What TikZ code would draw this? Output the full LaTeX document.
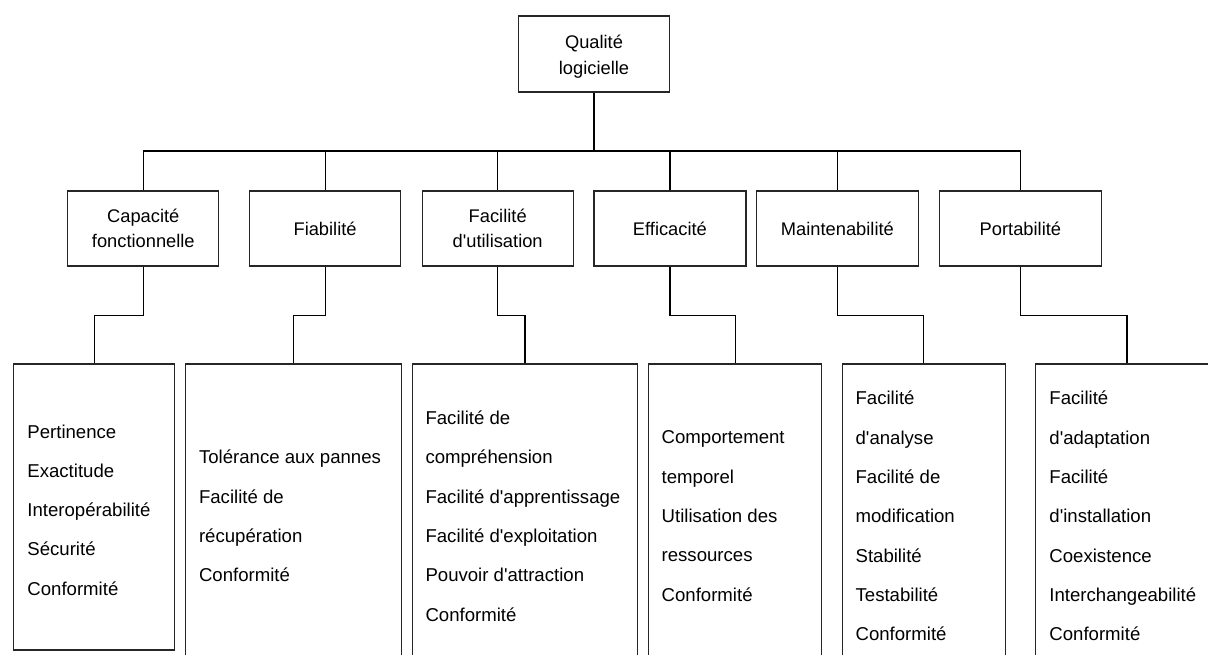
\documentclass[tikz,border=0pt]{standalone}
\usepackage{fontspec}
\setmainfont{Liberation Sans}[Ligatures=TeXOff]
\begin{document}
\begin{tikzpicture}[x=1pt,y=-1pt,
  box/.style={draw=black!85,line width=1.2pt,fill=white,inner sep=0pt,align=center,
              font=\fontsize{18.3}{25}\selectfont},
  topbox/.style={box,minimum width=151pt,minimum height=76pt,
                 font=\fontsize{18.3}{26}\selectfont},
  midbox/.style={box,minimum height=75pt},
  leaf/.style={draw=black!85,line width=1.2pt,inner sep=0pt,minimum height=304pt},
  leaftext/.style={anchor=west,align=left,inner sep=0pt,
                   font=\fontsize{18.6}{39.3}\selectfont},
  link/.style={draw=black,line width=1.2pt},
  trunk/.style={draw=black,line width=2.2pt}]
\useasboundingbox (0,0) rectangle (1208,655);
\clip (0,0) rectangle (1208,655);

% root
\node[topbox] (q) at (594,54) {\rule{0pt}{19.5pt}Qualité\\logicielle};

% characteristics
\node[midbox,minimum width=151pt] (c1) at (143.3,228.5) {Capacité\\fonctionnelle};
\node[midbox,minimum width=151pt] (c2) at (325.1,228.5) {Fiabilité};
\node[midbox,minimum width=151pt] (c3) at (497.7,228.5) {Facilité\\d'utilisation};
\node[midbox,minimum width=152pt] (c4) at (669.9,228.5) {Efficacité};
\node[midbox,minimum width=162pt] (c5) at (837.4,228.5) {Maintenabilité};
\node[midbox,minimum width=162pt] (c6) at (1020.4,228.5) {Portabilité};

% sub-characteristics
\node[leaf,minimum width=160.6pt,minimum height=286pt] (a) at (94.1,507) {};
\node[leaf,minimum width=216pt] (b) at (293.4,516) {};
\node[leaf,minimum width=225.2pt] (c) at (525,516) {};
\node[leaf,minimum width=173.3pt] (d) at (735.2,516) {};
\node[leaf,minimum width=163pt] (e) at (923.8,516) {};
\node[leaf,minimum width=182.4pt] (f) at (1127,516) {};

\node[leaftext] (ta) at ([xshift=14pt,yshift=-3pt]a.west)
  {Pertinence\\Exactitude\\Interopérabilité\\Sécurité\\Conformité};
\node[leaftext] (tb) at ([xshift=14pt]b.west)
  {Tolérance aux pannes\\Facilité de\\récupération\\Conformité};
\node[leaftext] (tc) at ([xshift=13.5pt]c.west)
  {Facilité de\\compréhension\\Facilité d'apprentissage\\Facilité d'exploitation\\Pouvoir d'attraction\\Conformité};
\node[leaftext] (td) at ([xshift=13.5pt]d.west)
  {Comportement\\temporel\\Utilisation des\\ressources\\Conformité};
\node[leaftext] (te) at ([xshift=13.7pt]e.west)
  {Facilité\\d'analyse\\Facilité de\\modification\\Stabilité\\Testabilité\\Conformité};
\node[leaftext] (tf) at ([xshift=14pt]f.west)
  {Facilité\\d'adaptation\\Facilité\\d'installation\\Coexistence\\Interchangeabilité\\Conformité};

% root to bus
\coordinate (bus) at (594,151);
\draw[trunk] (q.south) -- (bus);
\draw[link] (c1.north) -- (c1.north |- bus) -- (c6.north |- bus) -- (c6.north);
\draw[trunk] (c2.north |- bus) -- (c5.north |- bus);
\foreach \n in {c2,c3,c4,c5}
  \draw[link] (\n.north |- bus) -- (\n.north);

% characteristic to its list
\foreach \s/\t in {c1/a,c2/b,c3/c,c4/d,c5/e,c6/f}
  \draw[link] (\s.south) -- ++(0,49) -| (\t.north);
\end{tikzpicture}
\end{document}
